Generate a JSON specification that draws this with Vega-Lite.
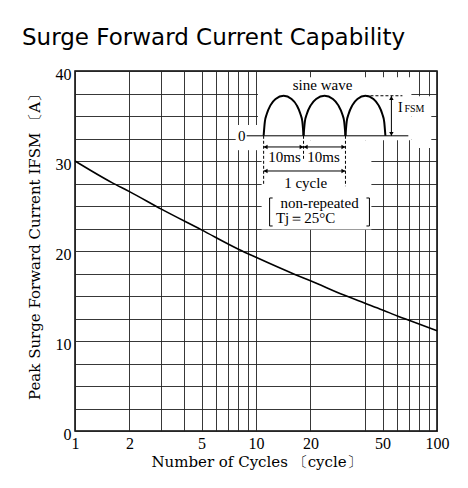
{
  "$schema": "https://vega.github.io/schema/vega-lite/v6.json",
  "width": 362,
  "height": 360,
  "autosize": {"type": "none"},
  "padding": {"left": 75, "top": 71, "right": 31, "bottom": 57},
  "background": "white",
  "title": {
    "text": "Surge Forward Current Capability",
    "anchor": "start",
    "frame": "group",
    "dx": -53,
    "offset": 16,
    "font": "DejaVu Sans",
    "fontSize": 23,
    "fontWeight": "normal",
    "color": "black"
  },
  "config": {
    "view": {"stroke": "black", "strokeWidth": 1.5},
    "axis": {
      "domain": false,
      "ticks": false,
      "tickSize": 0,
      "grid": true,
      "gridColor": "#222222",
      "gridWidth": 1,
      "gridOpacity": 0.9,
      "labelFont": "Liberation Serif",
      "labelFontSize": 16,
      "labelColor": "black",
      "titleFont": "DejaVu Serif",
      "titleFontSize": 15,
      "titleFontWeight": "normal",
      "titleColor": "black"
    }
  },
  "datasets": {
    "curve": [
      {"x": 1, "y": 30.0}, {"x": 1.6, "y": 27.6}, {"x": 2, "y": 26.6}, {"x": 3, "y": 24.65},
      {"x": 5, "y": 22.35}, {"x": 8, "y": 20.2}, {"x": 10, "y": 19.3}, {"x": 16.4, "y": 17.4},
      {"x": 20, "y": 16.7}, {"x": 30.6, "y": 15.1}, {"x": 40, "y": 14.2}, {"x": 50, "y": 13.45},
      {"x": 61.8, "y": 12.7}, {"x": 70, "y": 12.3}, {"x": 100, "y": 11.15}
    ],
    "masks": [
      {"x": 10.25, "x2": 72.2, "y": 32.3, "y2": 39.3},
      {"x": 72.2, "x2": 93.0, "y": 31.44, "y2": 37.2},
      {"x": 7.72, "x2": 10.74, "y": 31.2, "y2": 34.0},
      {"x": 10.74, "x2": 43.4, "y": 22.4, "y2": 32.3}
    ],
    "humps": [
      {"h": 1, "x": 11.02, "y": 32.8}, {"h": 1, "x": 11.19, "y": 34.36}, {"h": 1, "x": 11.48, "y": 35.25},
      {"h": 1, "x": 12.01, "y": 36.18}, {"h": 1, "x": 12.83, "y": 36.89}, {"h": 1, "x": 14.21, "y": 37.25},
      {"h": 1, "x": 15.72, "y": 36.89}, {"h": 1, "x": 16.80, "y": 36.18}, {"h": 1, "x": 17.58, "y": 35.25},
      {"h": 1, "x": 18.04, "y": 34.36}, {"h": 1, "x": 18.31, "y": 32.8},
      {"h": 2, "x": 18.31, "y": 32.8}, {"h": 2, "x": 18.61, "y": 34.36}, {"h": 2, "x": 19.11, "y": 35.25},
      {"h": 2, "x": 20.05, "y": 36.18}, {"h": 2, "x": 21.49, "y": 36.89}, {"h": 2, "x": 23.91, "y": 37.25},
      {"h": 2, "x": 26.60, "y": 36.89}, {"h": 2, "x": 28.51, "y": 36.18}, {"h": 2, "x": 29.92, "y": 35.25},
      {"h": 2, "x": 30.72, "y": 34.36}, {"h": 2, "x": 31.21, "y": 32.8},
      {"h": 3, "x": 31.21, "y": 32.8}, {"h": 3, "x": 31.69, "y": 34.36}, {"h": 3, "x": 32.51, "y": 35.25},
      {"h": 3, "x": 34.03, "y": 36.18}, {"h": 3, "x": 36.35, "y": 36.89}, {"h": 3, "x": 40.24, "y": 37.25},
      {"h": 3, "x": 44.54, "y": 36.89}, {"h": 3, "x": 47.58, "y": 36.18}, {"h": 3, "x": 49.81, "y": 35.25},
      {"h": 3, "x": 51.09, "y": 34.36}, {"h": 3, "x": 51.87, "y": 32.8}
    ],
    "solid": [
      {"x": 8.88, "x2": 69.45, "y": 32.8, "y2": 32.8},
      {"x": 11.02, "x2": 18.31, "y": 31.56, "y2": 31.56},
      {"x": 18.31, "x2": 31.21, "y": 31.56, "y2": 31.56},
      {"x": 11.02, "x2": 31.21, "y": 28.89, "y2": 28.89},
      {"x": 55.98, "x2": 55.98, "y": 32.8, "y2": 37.25},
      {"x": 11.89, "x2": 11.89, "y": 22.78, "y2": 25.89},
      {"x": 11.89, "x2": 12.36, "y": 25.89, "y2": 25.89},
      {"x": 11.89, "x2": 12.36, "y": 22.78, "y2": 22.78},
      {"x": 42.33, "x2": 42.33, "y": 22.78, "y2": 25.89},
      {"x": 40.75, "x2": 42.33, "y": 25.89, "y2": 25.89},
      {"x": 40.75, "x2": 42.33, "y": 22.78, "y2": 22.78}
    ],
    "dashed": [
      {"x": 11.02, "x2": 11.02, "y": 32.8, "y2": 27.33},
      {"x": 18.31, "x2": 18.31, "y": 32.8, "y2": 30.1},
      {"x": 31.21, "x2": 31.21, "y": 32.8, "y2": 27.2},
      {"x": 40.24, "x2": 64.4, "y": 37.25, "y2": 37.25}
    ],
    "heads": [
      {"x": 11.30, "y": 31.56, "dir": "left"}, {"x": 17.85, "y": 31.56, "dir": "right"},
      {"x": 18.81, "y": 31.56, "dir": "left"}, {"x": 30.39, "y": 31.56, "dir": "right"},
      {"x": 11.30, "y": 28.89, "dir": "left"}, {"x": 30.39, "y": 28.89, "dir": "right"},
      {"x": 55.98, "y": 37.0, "dir": "up"}, {"x": 55.98, "y": 33.02, "dir": "down"}
    ],
    "notes": [
      {"x": 23.31, "y": 38.44, "t": "sine wave"},
      {"x": 8.33, "y": 32.78, "t": "0"},
      {"x": 14.39, "y": 30.44, "t": "10ms"},
      {"x": 23.61, "y": 30.44, "t": "10ms"},
      {"x": 18.79, "y": 27.56, "t": "1 cycle"},
      {"x": 22.44, "y": 25.33, "t": "non-repeated"},
      {"x": 18.79, "y": 23.67, "t": "Tj＝25°C"}
    ],
    "noteI": [{"x": 62.77, "y": 35.44, "t": "I"}],
    "noteFSM": [{"x": 75.0, "y": 35.44, "t": "FSM"}]
  },
  "encoding": {
    "x": {
      "field": "x",
      "type": "quantitative",
      "scale": {"type": "log", "domain": [1, 100]},
      "axis": {
        "values": [1, 2, 3, 4, 5, 6, 7, 8, 9, 10, 20, 40, 50, 60, 70, 80, 90, 100],
        "format": "d",
        "labelExpr": "indexof([1,2,5,10,20,50,100], datum.value) >= 0 ? datum.label : ''",
        "labelFlush": false,
        "labelOverlap": false,
        "labelPadding": 4,
        "title": "Number of Cycles 〔cycle〕",
        "titlePadding": 3
      }
    },
    "y": {
      "field": "y",
      "type": "quantitative",
      "scale": {"domain": [0, 40], "nice": false},
      "axis": {
        "values": [0, 2.5, 5, 7.5, 10, 12.5, 15, 17.5, 20, 22.5, 25, 27.5, 30, 32.5, 35, 37.5, 40],
        "labelExpr": "datum.value % 10 === 0 ? datum.label : ''",
        "labelOverlap": false,
        "labelFlush": false,
        "labelPadding": 4,
        "labelOffset": 3,
        "title": "Peak Surge Forward Current IFSM 〔A〕",
        "titlePadding": 13,
        "titleY": 172
      }
    }
  },
  "layer": [
    {
      "data": {"name": "masks"},
      "mark": {"type": "rect", "fill": "white", "strokeWidth": 0},
      "encoding": {"x2": {"field": "x2"}, "y2": {"field": "y2"}}
    },
    {
      "data": {"name": "curve"},
      "mark": {"type": "line", "color": "black", "strokeWidth": 1.6, "interpolate": "monotone"},
      "encoding": {}
    },
    {
      "data": {"name": "humps"},
      "mark": {"type": "line", "color": "black", "strokeWidth": 2, "interpolate": "monotone"},
      "encoding": {"detail": {"field": "h"}}
    },
    {
      "data": {"name": "solid"},
      "mark": {"type": "rule", "color": "black", "strokeWidth": 1},
      "encoding": {"x2": {"field": "x2"}, "y2": {"field": "y2"}}
    },
    {
      "data": {"name": "dashed"},
      "mark": {"type": "rule", "color": "black", "strokeWidth": 1, "strokeDash": [3, 2]},
      "encoding": {"x2": {"field": "x2"}, "y2": {"field": "y2"}}
    },
    {
      "data": {"name": "heads"},
      "mark": {"type": "point", "filled": true, "color": "black", "size": 20, "opacity": 1},
      "encoding": {
        "shape": {
          "field": "dir",
          "type": "nominal",
          "scale": {"domain": ["left", "right", "up", "down"], "range": ["triangle-left", "triangle-right", "triangle-up", "triangle-down"]},
          "legend": null
        }
      }
    },
    {
      "data": {"name": "notes"},
      "mark": {"type": "text", "font": "Liberation Serif", "fontSize": 15, "color": "black", "align": "center", "baseline": "middle"},
      "encoding": {"text": {"field": "t"}}
    },
    {
      "data": {"name": "noteI"},
      "mark": {"type": "text", "font": "Liberation Serif", "fontSize": 14, "color": "black", "align": "center", "baseline": "alphabetic"},
      "encoding": {"text": {"field": "t"}}
    },
    {
      "data": {"name": "noteFSM"},
      "mark": {"type": "text", "font": "Liberation Serif", "fontSize": 10, "color": "black", "align": "center", "baseline": "alphabetic"},
      "encoding": {"text": {"field": "t"}}
    }
  ]
}
